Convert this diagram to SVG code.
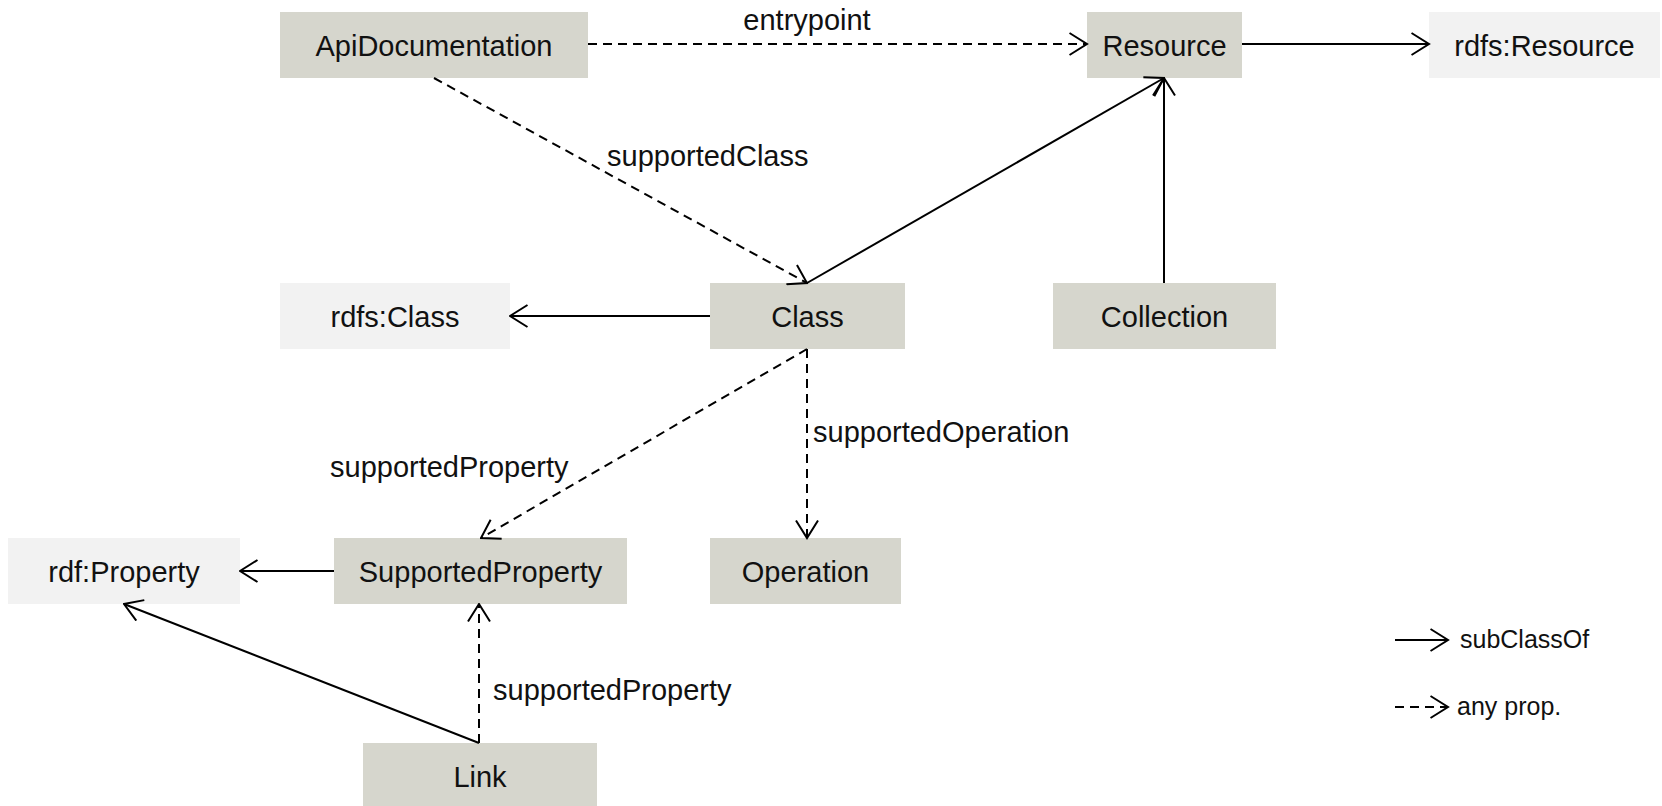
<svg xmlns="http://www.w3.org/2000/svg" width="1662" height="806" viewBox="0 0 1662 806">
<style>
.n rect{fill:#d6d6cd}
.l rect{fill:#f2f2f2}
text{font-family:"Liberation Sans",Arial,sans-serif;font-size:29px;fill:#111}
.c{text-anchor:middle}
.e line{stroke:#000;stroke-width:2;fill:none;marker-end:url(#a)}
.e .d{stroke-dasharray:9,6}
.lg{font-size:25px}
</style>
<defs>
<marker id="a" viewBox="0 0 20 24" refX="18.5" refY="12" markerWidth="20" markerHeight="24" markerUnits="userSpaceOnUse" orient="auto">
<path d="M1,1 L18.5,12 L1,23" fill="none" stroke="#000" stroke-width="2"/>
</marker>
</defs>
<rect width="1662" height="806" fill="#fff"/>
<g id="ApiDocumentation" class="n"><rect x="280" y="12" width="308" height="66"/><text class="c" x="434" y="56">ApiDocumentation</text></g>
<g id="Resource" class="n"><rect x="1087" y="12" width="155" height="66"/><text class="c" x="1164.5" y="56">Resource</text></g>
<g id="rdfsResource" class="l"><rect x="1429" y="12" width="231" height="66"/><text class="c" x="1544.5" y="56">rdfs:Resource</text></g>
<g id="rdfsClass" class="l"><rect x="280" y="283" width="230" height="66"/><text class="c" x="395" y="327">rdfs:Class</text></g>
<g id="Class" class="n"><rect x="710" y="283" width="195" height="66"/><text class="c" x="807.5" y="327">Class</text></g>
<g id="Collection" class="n"><rect x="1053" y="283" width="223" height="66"/><text class="c" x="1164.5" y="327">Collection</text></g>
<g id="rdfProperty" class="l"><rect x="8" y="538" width="232" height="66"/><text class="c" x="124" y="582">rdf:Property</text></g>
<g id="SupportedProperty" class="n"><rect x="334" y="538" width="293" height="66"/><text class="c" x="480.5" y="582">SupportedProperty</text></g>
<g id="Operation" class="n"><rect x="710" y="538" width="191" height="66"/><text class="c" x="805.5" y="582">Operation</text></g>
<g id="Link" class="n"><rect x="363" y="743" width="234" height="66"/><text class="c" x="480" y="787">Link</text></g>
<g id="connectors" class="e">
<line class="d" x1="588" y1="44" x2="1087" y2="44"/>
<line x1="1242" y1="44" x2="1429" y2="44"/>
<line class="d" x1="434" y1="78" x2="807" y2="283"/>
<line x1="807" y1="283" x2="1164" y2="78"/>
<line x1="1164" y1="283" x2="1164" y2="78"/>
<line x1="710" y1="316" x2="510" y2="316"/>
<line class="d" x1="807" y1="349" x2="481" y2="538"/>
<line class="d" x1="807" y1="349" x2="807" y2="538"/>
<line x1="334" y1="571" x2="240" y2="571"/>
<line x1="479" y1="743" x2="124" y2="604"/>
<line class="d" x1="479" y1="743" x2="479" y2="604"/>
<line x1="1395" y1="640" x2="1448" y2="640"/>
<line class="d" x1="1395" y1="707" x2="1448" y2="707"/>
</g>
<g id="labels">
<text class="c" x="807" y="30">entrypoint</text>
<text x="607" y="166">supportedClass</text>
<text x="330" y="477">supportedProperty</text>
<text x="813" y="442">supportedOperation</text>
<text x="493" y="700">supportedProperty</text>
<text class="lg" x="1460" y="648">subClassOf</text>
<text class="lg" x="1457" y="715">any prop.</text>
</g>
</svg>
